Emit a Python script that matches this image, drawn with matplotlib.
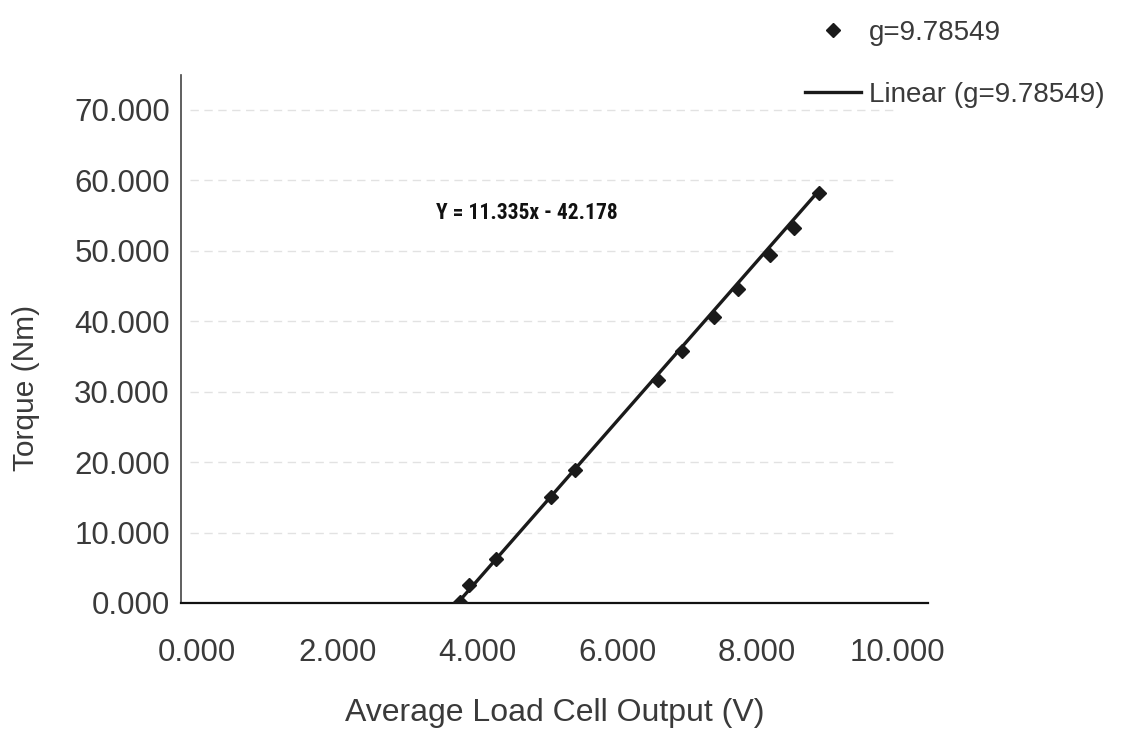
import numpy as np
import matplotlib
matplotlib.use("Agg")
import matplotlib.pyplot as plt

# readings
volts = [3.76, 3.89, 4.27, 5.05, 5.40, 6.59, 6.93, 7.38, 7.72, 8.19, 8.52, 8.89]
torque = [0.2, 2.5, 6.3, 15.1, 18.9, 31.7, 35.7, 40.6, 44.5, 49.4, 53.2, 58.2]
slope = 11.335
intercept = -42.178
yticks = [0, 10, 20, 30, 40, 50, 60, 70]
xticks = [0, 2, 4, 6, 8, 10]
series_label = 'g=9.78549'
fit_label = 'Linear (g=9.78549)'

plt.rcParams['font.family'] = ['Liberation Sans', 'DejaVu Sans']
txt = '#3a3a3a'

fig = plt.figure(figsize=(11.23, 7.31), dpi=100)
ax = fig.add_axes([181 / 1123, 1 - 603 / 731, (928 - 181) / 1123, (603 - 75) / 731])

ax.set_xlim(-0.23, 10.44)
ax.set_ylim(0, 74.9)

# faint gridlines
ax.hlines(yticks[1:], -0.1, 10.0, colors='#e2e2e2', linestyles=(0, (6, 4)), lw=1, zorder=0)

xfit = np.array([min(volts), max(volts)])
ax.plot(xfit, slope * xfit + intercept, color='#1a1a1a', lw=2.4, label=fit_label, zorder=2)
ax.plot(volts, torque, 'D', color='#1a1a1a', ms=7.5, label=series_label, zorder=3)

ax.text(4.71, 55.3, 'Y = 11.335x - 42.178', ha='center', va='center', fontsize=15.5,
        fontweight='bold', family=['Roboto Condensed', 'Liberation Sans Narrow', 'Liberation Sans'],
        color='#111111')

ax.set_xticks(xticks)
ax.set_xticklabels(['%.3f' % v for v in xticks])
ax.set_yticks(yticks)
ax.set_yticklabels(['%.3f' % v for v in yticks])
ax.tick_params(axis='both', length=0, labelsize=22.5, colors=txt)
ax.tick_params(axis='x', pad=25)
ax.tick_params(axis='y', pad=8)

for s in ['top', 'right']:
    ax.spines[s].set_visible(False)
ax.spines['left'].set_color('#444444')
ax.spines['left'].set_linewidth(1.2)
ax.spines['bottom'].set_color('#111111')
ax.spines['bottom'].set_linewidth(1.6)

ax.set_xlabel('Average Load Cell Output (V)', fontsize=23, color=txt, labelpad=22)
ax.set_ylabel('Torque (Nm)', fontsize=21.5, color=txt)
ax.yaxis.set_label_coords(-0.189, 0.407)

h, l = ax.get_legend_handles_labels()
fig.legend(h[::-1], l[::-1], loc='upper left', bbox_to_anchor=(805 / 1123, 1 - 20 / 731),
           frameon=False, fontsize=20, labelcolor=txt, handlelength=2.0, handletextpad=0.3,
           labelspacing=1.3, borderpad=0, borderaxespad=0)

fig.savefig('out.png', dpi=100, facecolor='white')
